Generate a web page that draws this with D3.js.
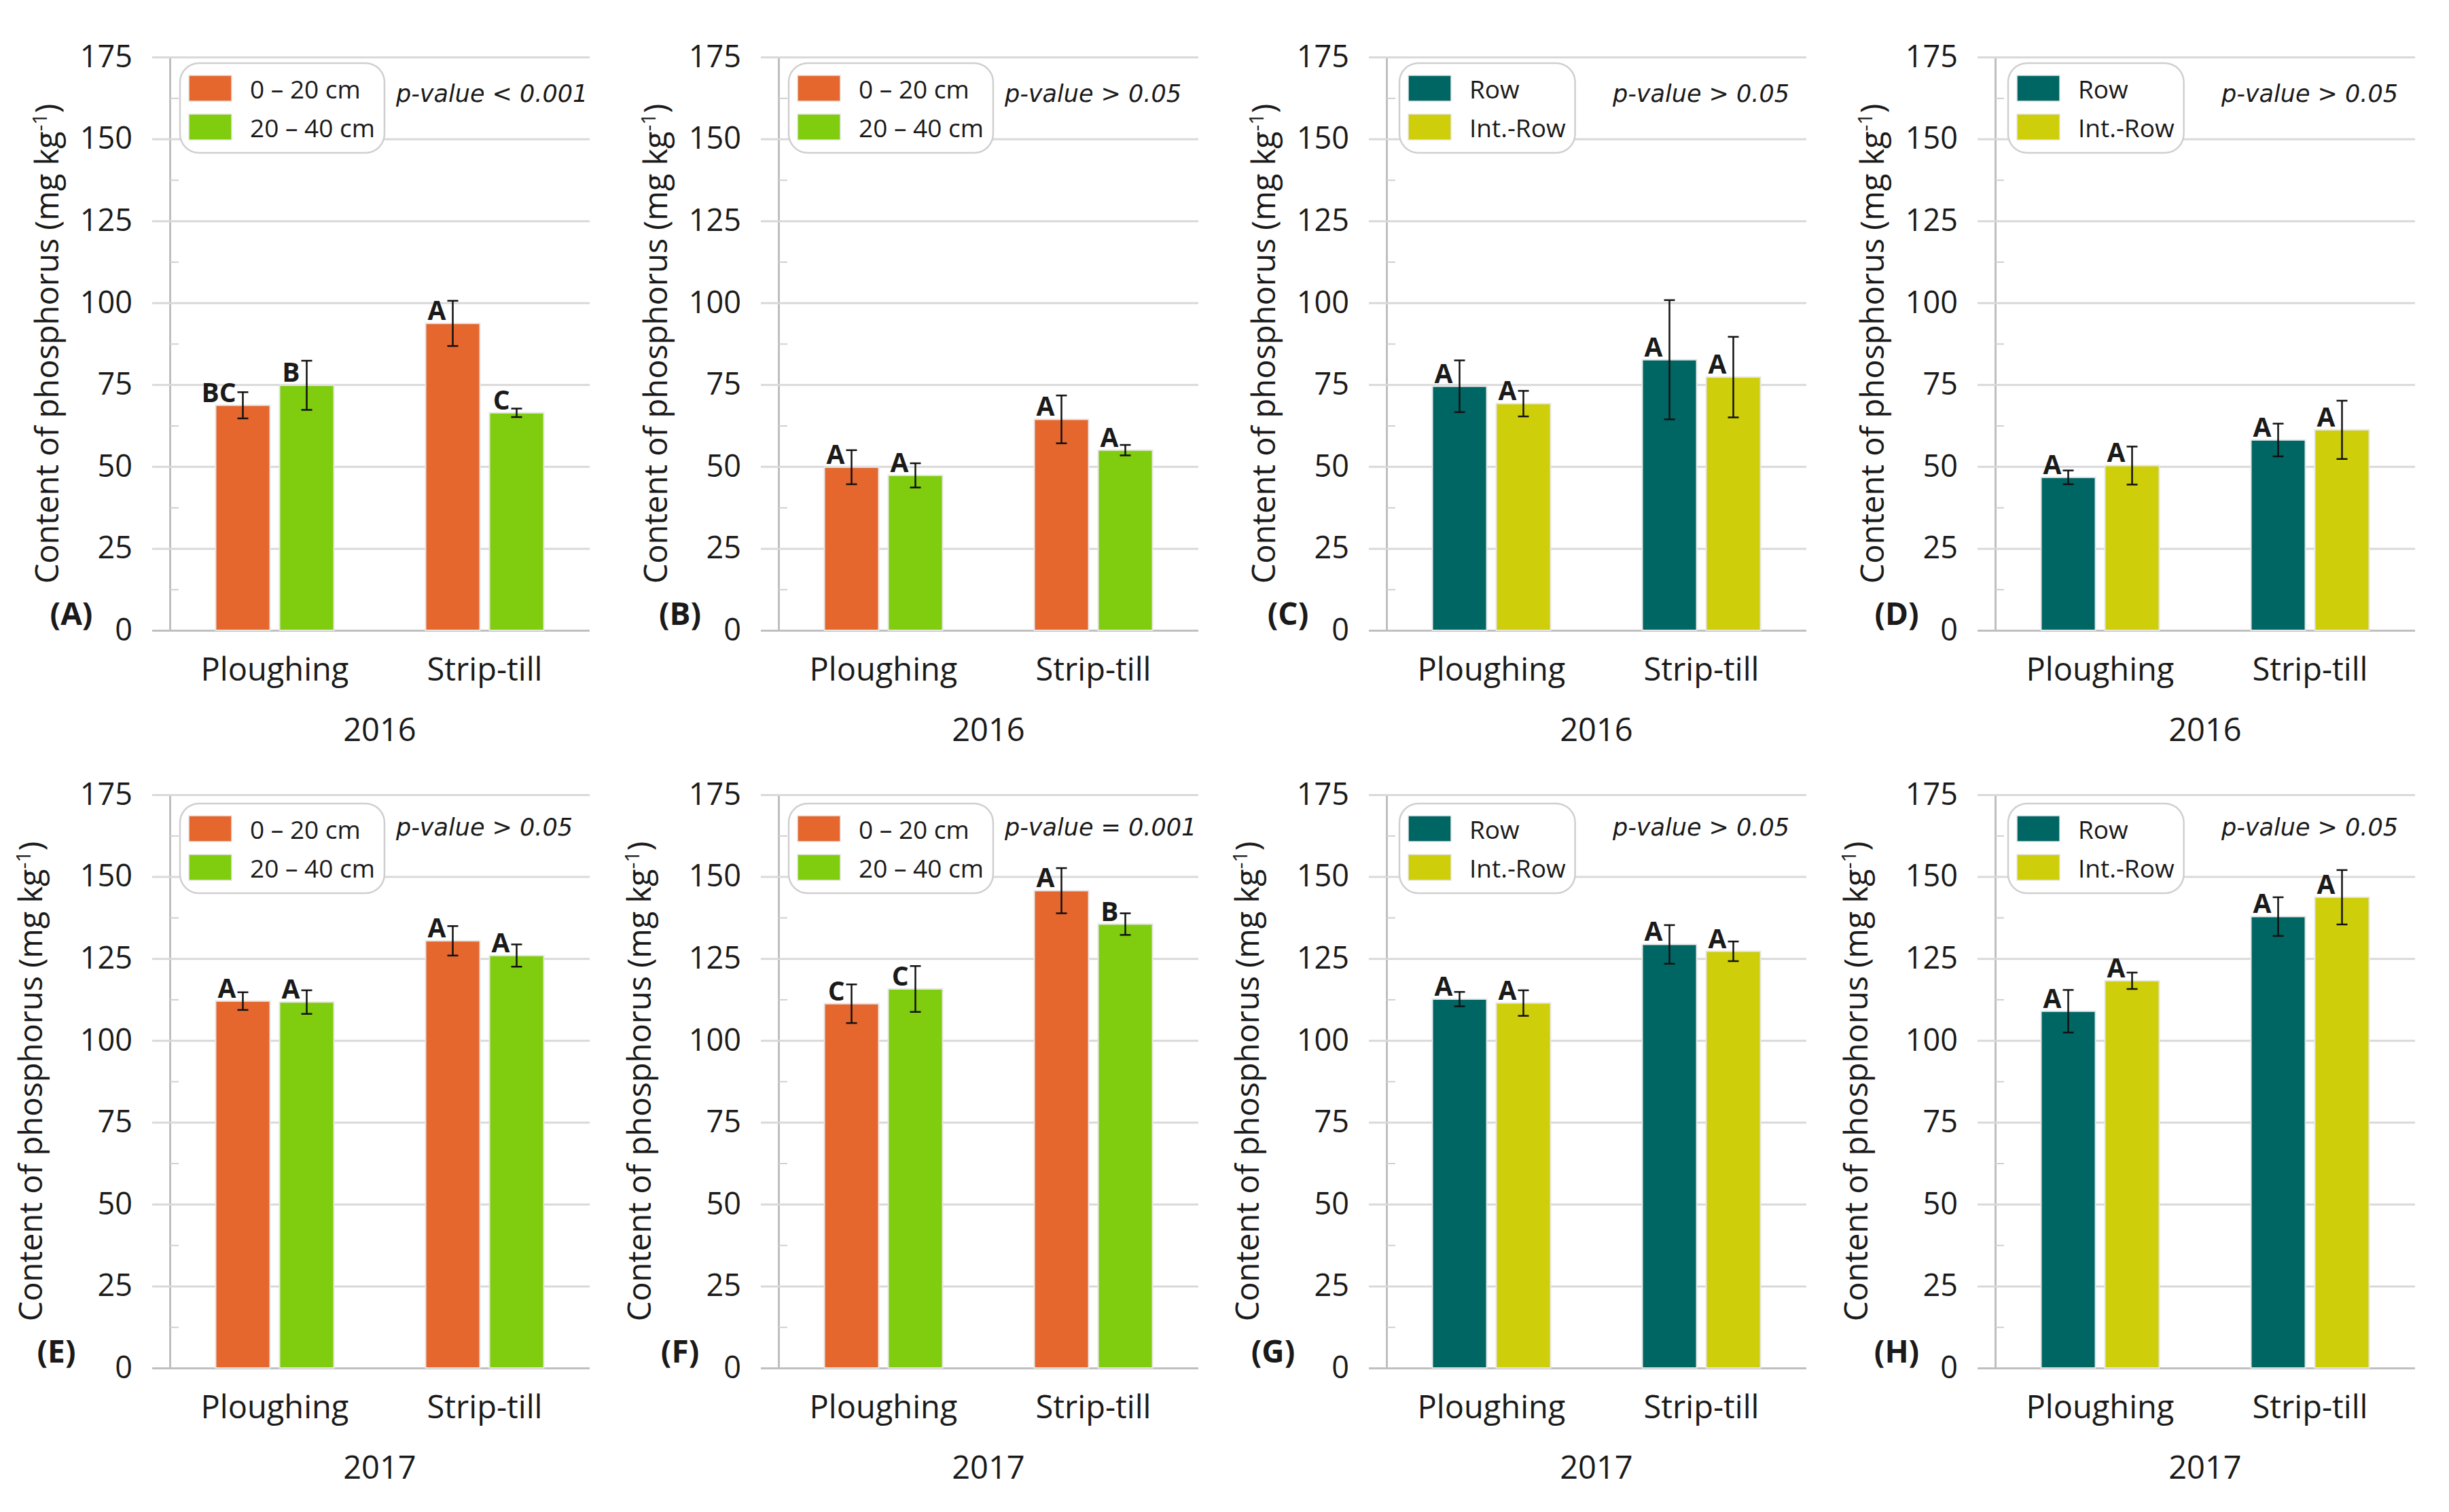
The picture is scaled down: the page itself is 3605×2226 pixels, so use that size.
<!DOCTYPE html>
<html>
<head>
<meta charset="utf-8">
<script src="https://cdn.jsdelivr.net/npm/d3@7"></script>
<style>
  html, body { margin: 0; padding: 0; background: #fff; }
  svg { display: block; }
</style>
</head>
<body>
<div id="chart"></div>
<script>
// categories / series
const categories = ["Ploughing", "Strip-till"];
const depthSeries = ["0 – 20 cm", "20 – 40 cm"];
const rowSeries = ["Row", "Int.-Row"];
const depthColors = ["#e5672e", "#80cc0e"];
const rowColors = ["#006664", "#cece0a"];
const yTicks = [0, 25, 50, 75, 100, 125, 150, 175];

// values per panel: [Ploughing s1, Ploughing s2, Strip-till s1, Strip-till s2]
const meansA = [68.7, 74.8, 93.7, 66.4];
const errsA = [4.0, 7.5, 6.9, 1.3];
const lettersA = ["BC", "B", "A", "C"];

const meansB = [49.8, 47.3, 64.4, 55.0];
const errsB = [5.2, 3.7, 7.3, 1.6];
const lettersB = ["A", "A", "A", "A"];

const meansC = [74.5, 69.2, 82.6, 77.3];
const errsC = [7.9, 3.9, 18.2, 12.3];
const lettersC = ["A", "A", "A", "A"];

const meansD = [46.7, 50.3, 58.1, 61.2];
const errsD = [2.1, 5.8, 5.0, 8.9];
const lettersD = ["A", "A", "A", "A"];

const meansE = [112.0, 111.7, 130.4, 125.9];
const errsE = [2.7, 3.6, 4.5, 3.4];
const lettersE = ["A", "A", "A", "A"];

const meansF = [111.2, 115.7, 145.7, 135.5];
const errsF = [5.9, 7.0, 6.9, 3.3];
const lettersF = ["C", "C", "A", "B"];

const meansG = [112.6, 111.4, 129.3, 127.2];
const errsG = [2.2, 3.9, 5.9, 3.0];
const lettersG = ["A", "A", "A", "A"];

const meansH = [108.9, 118.2, 137.8, 143.7];
const errsH = [6.5, 2.5, 5.9, 8.3];
const lettersH = ["A", "A", "A", "A"];

const panelIds = ["(A)", "(B)", "(C)", "(D)", "(E)", "(F)", "(G)", "(H)"];
const years = ["2016", "2016", "2016", "2016", "2017", "2017", "2017", "2017"];
const pValues = ["p-value < 0.001", "p-value > 0.05", "p-value > 0.05", "p-value > 0.05",
                 "p-value > 0.05", "p-value = 0.001", "p-value > 0.05", "p-value > 0.05"];

const allMeans = [meansA, meansB, meansC, meansD, meansE, meansF, meansG, meansH];
const allErrs = [errsA, errsB, errsC, errsD, errsE, errsF, errsG, errsH];
const allLetters = [lettersA, lettersB, lettersC, lettersD, lettersE, lettersF, lettersG, lettersH];

// layout
const W = 3605, H = 2226;
const colX = [250, 1146, 2041, 2937];
const rowY = [84, 1170];
const plotW = 618, plotH = 844;
const idShift = [0, 0, 0, 0, -22, 0, -22, 0];
const FONT = '"Open Sans", "Noto Sans", sans-serif';
const TEXT = "#1a1a1a";

const svg = d3.select("#chart").append("svg")
    .attr("width", W).attr("height", H)
    .attr("viewBox", `0 0 ${W} ${H}`)
    .style("font-family", FONT);

svg.append("rect").attr("width", W).attr("height", H).attr("fill", "#fff");

const y = d3.scaleLinear().domain([0, 175]).range([plotH, 0]);
const x0 = d3.scaleBand().domain(categories).range([0, plotW]);
const groupW = 174;
const x1 = d3.scaleBand().domain([0, 1]).range([0, groupW]).paddingInner(0.149);

panelIds.forEach((id, i) => {
    const col = i % 4, row = Math.floor(i / 4);
    const isDepth = col < 2;
    const series = isDepth ? depthSeries : rowSeries;
    const colors = isDepth ? depthColors : rowColors;

    const g = svg.append("g").attr("transform", `translate(${colX[col]},${rowY[row]})`);

    // major ticks + gridlines
    const yAxis = g.append("g")
        .call(d3.axisLeft(y).tickValues(yTicks).tickSize(26).tickPadding(29).tickSizeOuter(0));
    yAxis.select(".domain").attr("stroke", "#bfbfbf").attr("stroke-width", 3);
    yAxis.selectAll(".tick line")
        .attr("x1", plotW)
        .attr("stroke", d => d === 0 ? "#bfbfbf" : "#d9d9d9")
        .attr("stroke-width", 3);
    yAxis.selectAll(".tick text")
        .attr("fill", TEXT)
        .style("font-size", "45px")
        .style("font-family", FONT);

    // minor ticks
    const minor = g.append("g")
        .call(d3.axisRight(y).tickValues(d3.range(12.5, 175, 25)).tickSize(13).tickFormat(""));
    minor.select(".domain").remove();
    minor.selectAll(".tick line").attr("stroke", "#d0d0d0").attr("stroke-width", 2);

    // bars
    const rows = allMeans[i].map((m, k) => ({
        cat: categories[Math.floor(k / 2)],
        s: k % 2,
        mean: m,
        err: allErrs[i][k],
        letter: allLetters[i][k]
    }));
    const bx = d => x0(d.cat) + (x0.bandwidth() - groupW) / 2 + x1(d.s);

    g.selectAll("rect.bar").data(rows).enter().append("rect")
        .attr("class", "bar")
        .attr("x", bx)
        .attr("y", d => y(d.mean))
        .attr("width", x1.bandwidth())
        .attr("height", d => y(0) - y(d.mean))
        .attr("fill", d => colors[d.s])
        .attr("stroke", "#e6e6e6")
        .attr("stroke-width", 2);

    // error bars
    const eb = g.selectAll("g.err").data(rows).enter().append("g")
        .attr("class", "err")
        .attr("stroke", "#111").attr("stroke-width", 2.5);
    const cx = d => bx(d) + x1.bandwidth() / 2;
    eb.append("line")
        .attr("x1", cx).attr("x2", cx)
        .attr("y1", d => y(d.mean + d.err)).attr("y2", d => y(d.mean - d.err));
    eb.append("line")
        .attr("x1", d => cx(d) - 8).attr("x2", d => cx(d) + 8)
        .attr("y1", d => y(d.mean + d.err)).attr("y2", d => y(d.mean + d.err));
    eb.append("line")
        .attr("x1", d => cx(d) - 8).attr("x2", d => cx(d) + 8)
        .attr("y1", d => y(d.mean - d.err)).attr("y2", d => y(d.mean - d.err));

    // significance letters
    g.selectAll("text.letter").data(rows).enter().append("text")
        .attr("class", "letter")
        .attr("x", d => cx(d) - 10)
        .attr("y", d => y(d.mean) - 5)
        .attr("text-anchor", "end")
        .attr("fill", TEXT)
        .style("font-size", "39px")
        .style("font-weight", "bold")
        .text(d => d.letter);

    // category labels
    g.selectAll("text.cat").data(categories).enter().append("text")
        .attr("class", "cat")
        .attr("x", d => x0(d) + x0.bandwidth() / 2)
        .attr("y", plotH + 74)
        .attr("text-anchor", "middle")
        .attr("fill", TEXT)
        .style("font-size", "47px")
        .text(d => d);

    // year
    g.append("text")
        .attr("x", plotW / 2)
        .attr("y", plotH + 163)
        .attr("text-anchor", "middle")
        .attr("fill", TEXT)
        .style("font-size", "47px")
        .text(years[i]);

    // y title
    const titleDx = row === 0 ? -164 : -188;
    const title = g.append("text")
        .attr("transform", `translate(${titleDx},${plotH / 2}) rotate(-90)`)
        .attr("text-anchor", "middle")
        .attr("fill", TEXT)
        .style("font-size", "47px");
    title.append("tspan").text("Content of phosphorus (mg kg");
    title.append("tspan").attr("dy", -17).style("font-size", "30px").text("-1");
    title.append("tspan").attr("dy", 17).text(")");

    // panel id
    g.append("text")
        .attr("x", -145 + idShift[i])
        .attr("y", plotH - 8)
        .attr("text-anchor", "middle")
        .attr("fill", TEXT)
        .style("font-size", "46px")
        .style("font-weight", "bold")
        .text(id);

    // legend
    const leg = g.append("g").attr("transform", `translate(${isDepth ? 15 : 19},${row === 0 ? 9 : 13})`);
    const box = leg.append("rect")
        .attr("rx", 28).attr("ry", 28)
        .attr("fill", "#fff")
        .attr("stroke", "#cfcfcf")
        .attr("stroke-width", 2.5)
        .attr("height", 132);
    const items = leg.selectAll("g.item").data(series).enter().append("g")
        .attr("class", "item")
        .attr("transform", (d, k) => `translate(0,${k * 57})`);
    items.append("rect")
        .attr("x", 13).attr("y", 18)
        .attr("width", 63).attr("height", 38)
        .attr("fill", (d, k) => colors[k])
        .attr("stroke", "#e6e6e6").attr("stroke-width", 1.5);
    const lt = items.append("text")
        .attr("x", 103).attr("y", 52)
        .attr("fill", TEXT)
        .style("font-size", "37px")
        .text(d => d);
    let maxW = 0;
    lt.each(function () { maxW = Math.max(maxW, this.getComputedTextLength()); });
    box.attr("width", 103 + maxW + 14);

    // p-value
    g.append("text")
        .attr("x", 333)
        .attr("y", row === 0 ? 66 : 60)
        .attr("fill", TEXT)
        .style("font-family", '"DejaVu Sans", sans-serif')
        .style("font-size", "35px")
        .style("font-style", "italic")
        .text(pValues[i]);
});
</script>
</body>
</html>
